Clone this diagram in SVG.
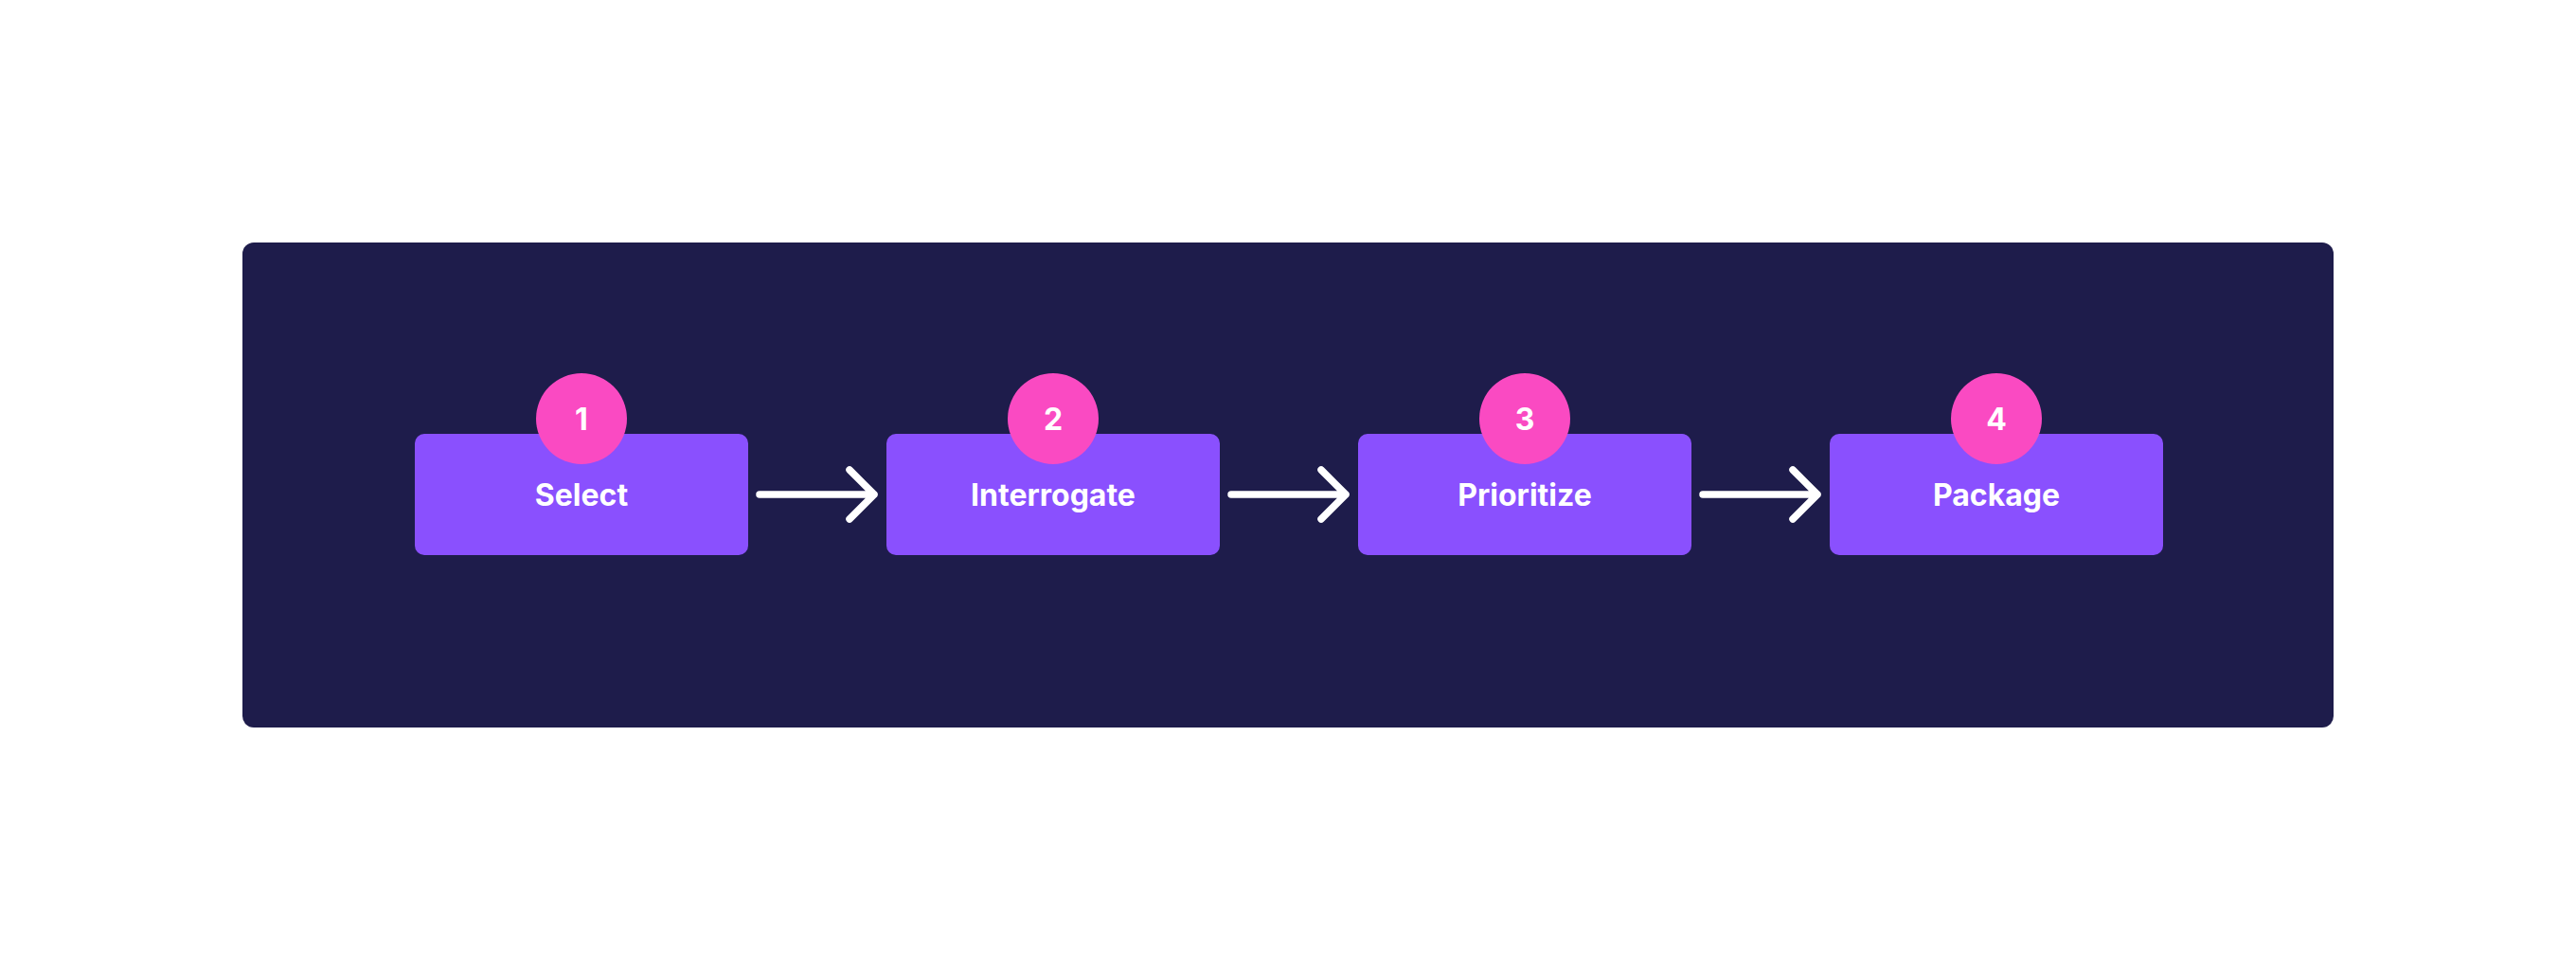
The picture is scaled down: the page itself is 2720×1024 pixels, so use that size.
<svg xmlns="http://www.w3.org/2000/svg" width="2720" height="1024" viewBox="0 0 2720 1024">
<style>
.box{fill:#8A50FE}
.badge{fill:#FA4AC2}
.lbl{font-family:Inter,"Noto Sans","Liberation Sans",sans-serif;font-weight:700;font-size:32px;fill:#FFFFFF;text-anchor:middle}
.arr{fill:none;stroke:#FFFFFF;stroke-width:7.5;stroke-linecap:round;stroke-linejoin:round}
</style>
<rect x="0" y="0" width="2720" height="1024" fill="#FFFFFF"/>
<rect id="panel" x="256" y="256" width="2208" height="512" rx="12" fill="#1E1C4B"/>
<g id="connectors">
<path class="arr" d="M802 522H923M897 496L923 522L897 548"/>
<path class="arr" d="M1300 522H1421M1395 496L1421 522L1395 548"/>
<path class="arr" d="M1798 522H1919M1893 496L1919 522L1893 548"/>
</g>
<g id="node1">
<rect class="box" x="438" y="458" width="352" height="128" rx="10"/>
<circle class="badge" cx="614" cy="442" r="48"/>
<text class="lbl" x="614" y="454">1</text>
<text class="lbl" x="614" y="534">Select</text>
</g>
<g id="node2">
<rect class="box" x="936" y="458" width="352" height="128" rx="10"/>
<circle class="badge" cx="1112" cy="442" r="48"/>
<text class="lbl" x="1112" y="454">2</text>
<text class="lbl" x="1112" y="534">Interrogate</text>
</g>
<g id="node3">
<rect class="box" x="1434" y="458" width="352" height="128" rx="10"/>
<circle class="badge" cx="1610" cy="442" r="48"/>
<text class="lbl" x="1610" y="454">3</text>
<text class="lbl" x="1610" y="534">Prioritize</text>
</g>
<g id="node4">
<rect class="box" x="1932" y="458" width="352" height="128" rx="10"/>
<circle class="badge" cx="2108" cy="442" r="48"/>
<text class="lbl" x="2108" y="454">4</text>
<text class="lbl" x="2108" y="534">Package</text>
</g>
</svg>
